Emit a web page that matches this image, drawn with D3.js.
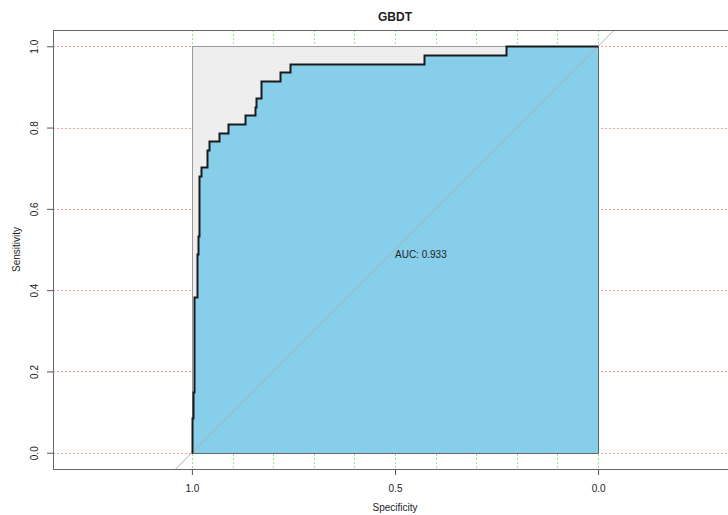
<!DOCTYPE html>
<html lang="en">
<head>
	<meta charset="UTF-8">
	<title>GBDT</title>
	<script src="https://d3js.org/d3.v7.min.js"></script>
	<style>
		body { margin: 0; background: #fff; }
		text { font-family: "Liberation Sans", Arial, sans-serif; }
	</style>
</head>
<body>

	<div class="box"></div>

	<script type="text/javascript">
		// ROC vertices (specificity, sensitivity)
		let specificity = [1, 1, 0.998, 0.998, 0.995, 0.995, 0.988, 0.988, 0.986, 0.986, 0.982, 0.982,
			0.978, 0.978, 0.962, 0.962, 0.957, 0.957, 0.933, 0.933, 0.911, 0.911, 0.870, 0.870,
			0.845, 0.845, 0.841, 0.841, 0.830, 0.830, 0.782, 0.782, 0.759, 0.759, 0.428, 0.428,
			0.227, 0.227, 0]
		let sensitivity = [0, 0.085, 0.085, 0.149, 0.149, 0.383, 0.383, 0.489, 0.489, 0.532, 0.532, 0.681,
			0.681, 0.702, 0.702, 0.745, 0.745, 0.766, 0.766, 0.787, 0.787, 0.809, 0.809, 0.830,
			0.830, 0.851, 0.851, 0.872, 0.872, 0.915, 0.915, 0.936, 0.936, 0.957, 0.957, 0.979,
			0.979, 1, 1]
		let xTicks = [1, 0.5, 0]
		let yTicks = [0, 0.2, 0.4, 0.6, 0.8, 1]
		let xGrid = d3.range(0, 11).map(i => i / 10)
		let aucLabel = 'AUC: 0.933'
		let title = 'GBDT'

		let width = 728
		let height = 515
		let frame = { left: 53, right: 737, top: 30, bottom: 469 }

		let svg = d3.select('.box').append('svg').attr('width', width).attr('height', height)

		let x = d3.scaleLinear().domain([1.342, -0.342]).range([frame.left, frame.right])
		let y = d3.scaleLinear().domain([-0.04, 1.04]).range([frame.bottom, frame.top])
		let px = v => Math.round(x(v)) + 0.5
		let py = v => Math.round(y(v)) + 0.5

		svg.append('clipPath').attr('id', 'clip')
			.append('rect')
			.attr('x', frame.left).attr('y', frame.top)
			.attr('width', frame.right - frame.left).attr('height', frame.bottom - frame.top)

		let plot = svg.append('g').attr('clip-path', 'url(#clip)')

		// grid
		plot.selectAll('.vgrid').data(xGrid).enter().append('line')
			.attr('class', 'vgrid')
			.attr('x1', d => px(d)).attr('x2', d => px(d))
			.attr('y1', frame.top).attr('y2', frame.bottom)
			.attr('stroke', '#8fe88f').attr('stroke-width', 1).attr('stroke-dasharray', '2 2')
		plot.selectAll('.hgrid').data(yTicks).enter().append('line')
			.attr('class', 'hgrid')
			.attr('x1', frame.left).attr('x2', frame.right)
			.attr('y1', d => py(d)).attr('y2', d => py(d))
			.attr('stroke', '#ff9a9a').attr('stroke-width', 1).attr('stroke-dasharray', '2 2')

		// max auc polygon
		let maxPoly = [[1, 0], [1, 1], [0, 1], [0, 0]]
		plot.append('polygon')
			.attr('points', maxPoly.map(p => [px(p[0]), py(p[1])].join(',')).join(' '))
			.attr('fill', '#eeeeee').attr('stroke', '#999').attr('stroke-width', 1)

		// auc polygon
		let pts = specificity.map((s, i) => [s, sensitivity[i]])
		let aucPoly = pts.concat([[0, 0]])
		plot.append('polygon')
			.attr('points', aucPoly.map(p => [px(p[0]), py(p[1])].join(',')).join(' '))
			.attr('fill', '#87ceeb').attr('stroke', '#666').attr('stroke-width', 1)

		// diagonal
		plot.append('line')
			.attr('x1', x(1.342)).attr('y1', y(1 - 1.342))
			.attr('x2', x(-0.342)).attr('y2', y(1 + 0.342))
			.attr('stroke', '#b0b0b0').attr('stroke-width', 1)

		// roc curve
		plot.append('path')
			.datum(pts)
			.attr('d', d3.line().x(d => px(d[0])).y(d => py(d[1])))
			.attr('fill', 'none').attr('stroke', '#1a1a1a').attr('stroke-width', 2)

		// frame
		svg.append('rect')
			.attr('x', frame.left + 0.5).attr('y', frame.top + 0.5)
			.attr('width', frame.right - frame.left).attr('height', frame.bottom - frame.top)
			.attr('fill', 'none').attr('stroke', '#666').attr('stroke-width', 1)

		// axes
		let xAxis = svg.append('g').attr('transform', `translate(0,${frame.bottom})`)
			.call(d3.axisBottom(x).tickValues(xTicks).tickFormat(d3.format('.1f')).tickSize(6).tickPadding(10))
		xAxis.select('.domain').remove()
		xAxis.selectAll('line').attr('stroke', '#555')
		xAxis.selectAll('text').attr('font-size', '10px').attr('fill', '#222')

		let yAxis = svg.append('g').attr('transform', `translate(${frame.left},0)`)
			.call(d3.axisLeft(y).tickValues(yTicks).tickFormat(d3.format('.1f')).tickSize(6))
		yAxis.select('.domain').remove()
		yAxis.selectAll('line').attr('stroke', '#555')
		yAxis.selectAll('text')
			.attr('font-size', '10px').attr('fill', '#222')
			.attr('x', null).attr('dy', null)
			.attr('text-anchor', 'middle')
			.attr('transform', 'translate(-15,0) rotate(-90)')

		// labels
		svg.append('text')
			.attr('x', x(0.5)).attr('y', 511)
			.attr('text-anchor', 'middle').attr('font-size', '10px').attr('fill', '#222')
			.text('Specificity')
		svg.append('text')
			.attr('transform', `translate(20,${y(0.5)}) rotate(-90)`)
			.attr('text-anchor', 'middle').attr('font-size', '10px').attr('fill', '#222')
			.text('Sensitivity')
		svg.append('text')
			.attr('x', x(0.5)).attr('y', 21)
			.attr('text-anchor', 'middle').attr('font-size', '12px').attr('font-weight', 'bold').attr('fill', '#222')
			.text(title)
		svg.append('text')
			.attr('x', x(0.5)).attr('y', y(0.5) + 8)
			.attr('text-anchor', 'start').attr('font-size', '10px').attr('fill', '#222')
			.text(aucLabel)

	</script>
</body>
</html>
